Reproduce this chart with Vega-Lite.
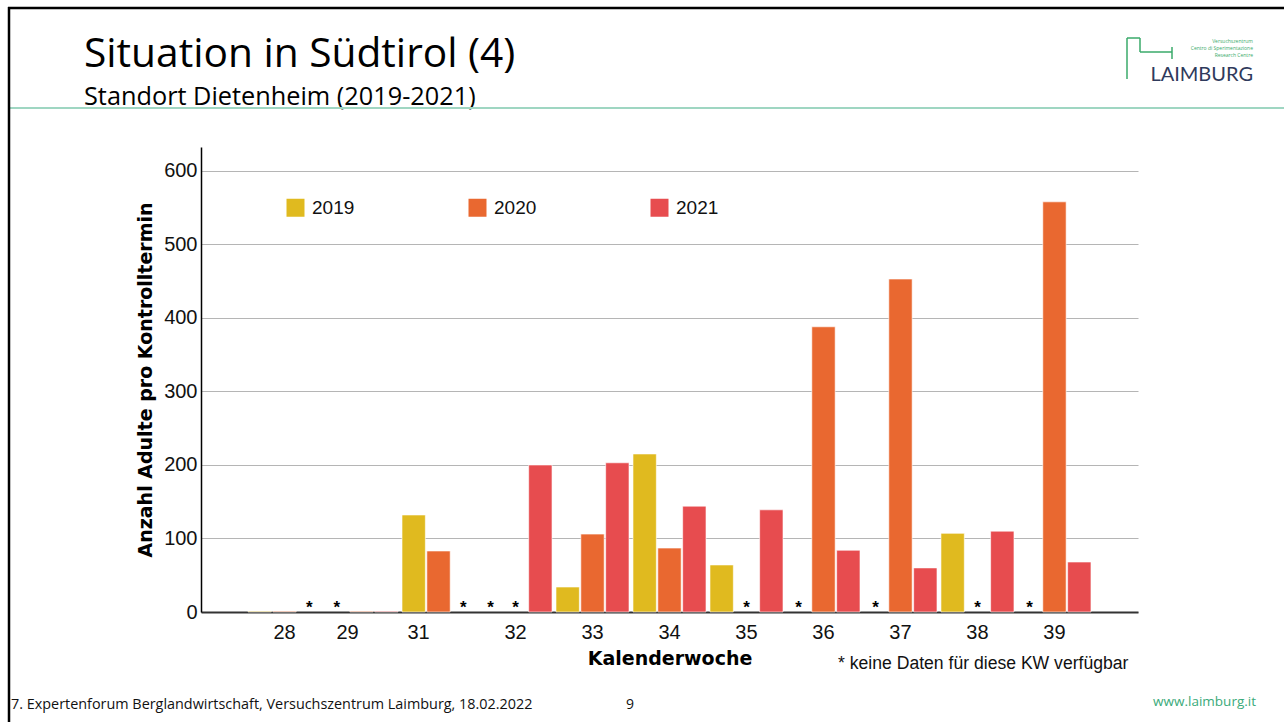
{
  "$schema": "https://vega.github.io/schema/vega-lite/v6.json",
  "width": 937,
  "height": 465,
  "autosize": {"type": "none"},
  "padding": {"left": 201, "top": 147, "right": 146, "bottom": 110},
  "background": "white",
  "datasets": {
    "counts": [
      {"KW": "28", "Jahr": "2019", "Adulte": 1, "fehlt": false},
      {"KW": "28", "Jahr": "2020", "Adulte": 1, "fehlt": false},
      {"KW": "28", "Jahr": "2021", "Adulte": null, "fehlt": true},
      {"KW": "29", "Jahr": "2019", "Adulte": null, "fehlt": true},
      {"KW": "29", "Jahr": "2020", "Adulte": 1, "fehlt": false},
      {"KW": "29", "Jahr": "2021", "Adulte": 1, "fehlt": false},
      {"KW": "31", "Jahr": "2019", "Adulte": 132, "fehlt": false},
      {"KW": "31", "Jahr": "2020", "Adulte": 83, "fehlt": false},
      {"KW": "31", "Jahr": "2021", "Adulte": null, "fehlt": true},
      {"KW": "32", "Jahr": "2019", "Adulte": null, "fehlt": true},
      {"KW": "32", "Jahr": "2020", "Adulte": null, "fehlt": true},
      {"KW": "32", "Jahr": "2021", "Adulte": 200, "fehlt": false},
      {"KW": "33", "Jahr": "2019", "Adulte": 34, "fehlt": false},
      {"KW": "33", "Jahr": "2020", "Adulte": 106, "fehlt": false},
      {"KW": "33", "Jahr": "2021", "Adulte": 203, "fehlt": false},
      {"KW": "34", "Jahr": "2019", "Adulte": 215, "fehlt": false},
      {"KW": "34", "Jahr": "2020", "Adulte": 87, "fehlt": false},
      {"KW": "34", "Jahr": "2021", "Adulte": 144, "fehlt": false},
      {"KW": "35", "Jahr": "2019", "Adulte": 64, "fehlt": false},
      {"KW": "35", "Jahr": "2020", "Adulte": null, "fehlt": true},
      {"KW": "35", "Jahr": "2021", "Adulte": 139, "fehlt": false},
      {"KW": "36", "Jahr": "2019", "Adulte": null, "fehlt": true},
      {"KW": "36", "Jahr": "2020", "Adulte": 388, "fehlt": false},
      {"KW": "36", "Jahr": "2021", "Adulte": 84, "fehlt": false},
      {"KW": "37", "Jahr": "2019", "Adulte": null, "fehlt": true},
      {"KW": "37", "Jahr": "2020", "Adulte": 453, "fehlt": false},
      {"KW": "37", "Jahr": "2021", "Adulte": 60, "fehlt": false},
      {"KW": "38", "Jahr": "2019", "Adulte": 107, "fehlt": false},
      {"KW": "38", "Jahr": "2020", "Adulte": null, "fehlt": true},
      {"KW": "38", "Jahr": "2021", "Adulte": 110, "fehlt": false},
      {"KW": "39", "Jahr": "2019", "Adulte": null, "fehlt": true},
      {"KW": "39", "Jahr": "2020", "Adulte": 558, "fehlt": false},
      {"KW": "39", "Jahr": "2021", "Adulte": 68, "fehlt": false}
    ]
  },
  "config": {
    "view": {"stroke": null},
    "font": "Liberation Sans"
  },
  "layer": [
    {
      "data": {"name": "counts"},
      "transform": [{"filter": "datum.Adulte != null"}],
      "mark": {"type": "bar", "stroke": "#ffffff", "strokeOpacity": 0.6, "strokeWidth": 1},
      "encoding": {
        "x": {
          "field": "KW", "type": "nominal",
          "scale": {"domain": ["28","29","31","32","33","34","35","36","37","38","39"], "paddingInner": 0, "paddingOuter": 0.585},
          "axis": {
            "title": "Kalenderwoche",
            "titleFont": "DejaVu Sans",
            "titleFontWeight": "bold",
            "titleFontSize": 19,
            "titleColor": "#000000",
            "titlePadding": 7,
            "labelAngle": 0,
            "labelFont": "Liberation Sans",
            "labelFontSize": 20,
            "labelColor": "#111111",
            "labelPadding": 10,
            "labelOffset": {"condition": [{"test": "datum.value == '29'", "value": -14}, {"test": "datum.value == '31'", "value": -20}], "value": 0},
            "ticks": false,
            "domainColor": "#333333",
            "domainWidth": 2
          }
        },
        "xOffset": {
          "field": "Jahr", "type": "nominal",
          "scale": {"domain": ["2019","2020","2021"], "paddingInner": 0.06, "paddingOuter": 0.08}
        },
        "y": {
          "field": "Adulte", "type": "quantitative",
          "scale": {"domain": [0, 632.6], "nice": false, "zero": true},
          "axis": {
            "title": "Anzahl Adulte pro Kontrolltermin",
            "titleFont": "DejaVu Sans",
            "titleFontWeight": "bold",
            "titleFontSize": 19,
            "titleColor": "#000000",
            "titlePadding": 8,
            "values": [0, 100, 200, 300, 400, 500, 600],
            "labelFont": "Liberation Sans",
            "labelFontSize": 20,
            "labelColor": "#111111",
            "labelPadding": 4,
            "ticks": false,
            "domainColor": "#000000",
            "domainWidth": 1.5,
            "gridColor": "#b5b5b5",
            "gridWidth": 1
          }
        },
        "color": {
          "field": "Jahr", "type": "nominal",
          "scale": {"domain": ["2019","2020","2021"], "range": ["#E0BA1F", "#E96830", "#E74C4F"]},
          "legend": {
            "title": null,
            "orient": "none",
            "direction": "horizontal",
            "columns": 3,
            "legendX": 85,
            "legendY": 51,
            "padding": 0,
            "symbolType": "square",
            "symbolSize": 324,
            "symbolStrokeWidth": 0,
            "labelFont": "Liberation Sans",
            "labelFontSize": 19,
            "labelColor": "#111111",
            "labelOffset": 7,
            "columnPadding": 113
          }
        }
      }
    },
    {
      "data": {"name": "counts"},
      "transform": [{"filter": "datum.fehlt"}],
      "mark": {"type": "text", "text": "*", "fontSize": 17, "fontWeight": "bold", "baseline": "alphabetic", "dy": 1, "color": "#000000"},
      "encoding": {
        "x": {"field": "KW", "type": "nominal"},
        "xOffset": {"field": "Jahr", "type": "nominal"},
        "y": {"datum": 0, "type": "quantitative"}
      }
    },
    {
      "data": {"values": [{}]},
      "mark": {"type": "text", "text": "Situation in Südtirol (4)", "align": "left", "baseline": "alphabetic", "font": "Open Sans", "fontSize": 40.7, "color": "#000000"},
      "encoding": {"x": {"value": -117}, "y": {"value": -80}}
    },
    {
      "data": {"values": [{}]},
      "mark": {"type": "text", "text": "Standort Dietenheim (2019-2021)", "align": "left", "baseline": "alphabetic", "font": "Open Sans", "fontSize": 25.3, "color": "#000000"},
      "encoding": {"x": {"value": -117}, "y": {"value": -42}}
    },
    {
      "data": {"values": [{}]},
      "mark": {"type": "text", "text": "* keine Daten für diese KW verfügbar", "align": "left", "baseline": "alphabetic", "font": "Liberation Sans", "fontSize": 17.6, "color": "#111111"},
      "encoding": {"x": {"value": 637}, "y": {"value": 522}}
    },
    {
      "data": {"values": [{}]},
      "mark": {"type": "text", "text": "7. Expertenforum Berglandwirtschaft, Versuchszentrum Laimburg, 18.02.2022", "align": "left", "baseline": "alphabetic", "font": "Open Sans", "fontSize": 14.4, "color": "#111111"},
      "encoding": {"x": {"value": -190}, "y": {"value": 562}}
    },
    {
      "data": {"values": [{}]},
      "mark": {"type": "text", "text": "9", "align": "center", "baseline": "alphabetic", "font": "Open Sans", "fontSize": 14, "color": "#111111"},
      "encoding": {"x": {"value": 429}, "y": {"value": 562}}
    },
    {
      "data": {"values": [{}]},
      "mark": {"type": "text", "text": "www.laimburg.it", "align": "right", "baseline": "alphabetic", "font": "Open Sans", "fontSize": 13.5, "color": "#3AAA7A"},
      "encoding": {"x": {"value": 1055}, "y": {"value": 559}}
    },
    {
      "data": {"values": [{}]},
      "mark": {"type": "text", "text": "LAIMBURG", "align": "right", "baseline": "alphabetic", "font": "Lato", "fontSize": 20, "color": "#2F3A5C"},
      "encoding": {"x": {"value": 1052}, "y": {"value": -66}}
    },
    {
      "data": {"values": [{}]},
      "mark": {"type": "text", "text": "Versuchszentrum", "align": "right", "baseline": "alphabetic", "font": "Open Sans", "fontSize": 5, "color": "#3AAA6A"},
      "encoding": {"x": {"value": 1052}, "y": {"value": -104}}
    },
    {
      "data": {"values": [{}]},
      "mark": {"type": "text", "text": "Centro di Sperimentazione", "align": "right", "baseline": "alphabetic", "font": "Open Sans", "fontSize": 5, "color": "#3AAA6A"},
      "encoding": {"x": {"value": 1052}, "y": {"value": -97}}
    },
    {
      "data": {"values": [{}]},
      "mark": {"type": "text", "text": "Research Centre", "align": "right", "baseline": "alphabetic", "font": "Open Sans", "fontSize": 5, "color": "#3AAA6A"},
      "encoding": {"x": {"value": 1052}, "y": {"value": -90}}
    },
    {
      "data": {"values": [{}]},
      "mark": {"type": "rule", "stroke": "#3AAA6A", "strokeWidth": 1.5},
      "encoding": {"x": {"value": 926}, "x2": {"value": 926}, "y": {"value": -109}, "y2": {"value": -68}}
    },
    {
      "data": {"values": [{}]},
      "mark": {"type": "rule", "stroke": "#3AAA6A", "strokeWidth": 1.5},
      "encoding": {"x": {"value": 926}, "x2": {"value": 939}, "y": {"value": -109}, "y2": {"value": -109}}
    },
    {
      "data": {"values": [{}]},
      "mark": {"type": "rule", "stroke": "#3AAA6A", "strokeWidth": 1.5},
      "encoding": {"x": {"value": 939}, "x2": {"value": 939}, "y": {"value": -109}, "y2": {"value": -95}}
    },
    {
      "data": {"values": [{}]},
      "mark": {"type": "rule", "stroke": "#3AAA6A", "strokeWidth": 1.5},
      "encoding": {"x": {"value": 939}, "x2": {"value": 971}, "y": {"value": -95}, "y2": {"value": -95}}
    },
    {
      "data": {"values": [{}]},
      "mark": {"type": "rule", "stroke": "#3AAA6A", "strokeWidth": 1.5},
      "encoding": {"x": {"value": 971}, "x2": {"value": 971}, "y": {"value": -100}, "y2": {"value": -88}}
    },
    {
      "data": {"values": [{}]},
      "mark": {"type": "rule", "stroke": "#9FD6C2", "strokeWidth": 2},
      "encoding": {"x": {"value": -191}, "x2": {"value": 1083}, "y": {"value": -39}, "y2": {"value": -39}}
    },
    {
      "data": {"values": [{}]},
      "mark": {"type": "rule", "stroke": "#000000", "strokeWidth": 2.5},
      "encoding": {"x": {"value": -192}, "x2": {"value": -192}, "y": {"value": -140}, "y2": {"value": 575}}
    },
    {
      "data": {"values": [{}]},
      "mark": {"type": "rule", "stroke": "#000000", "strokeWidth": 2.5},
      "encoding": {"x": {"value": -193}, "x2": {"value": 1083}, "y": {"value": -139}, "y2": {"value": -139}}
    }
  ]
}
